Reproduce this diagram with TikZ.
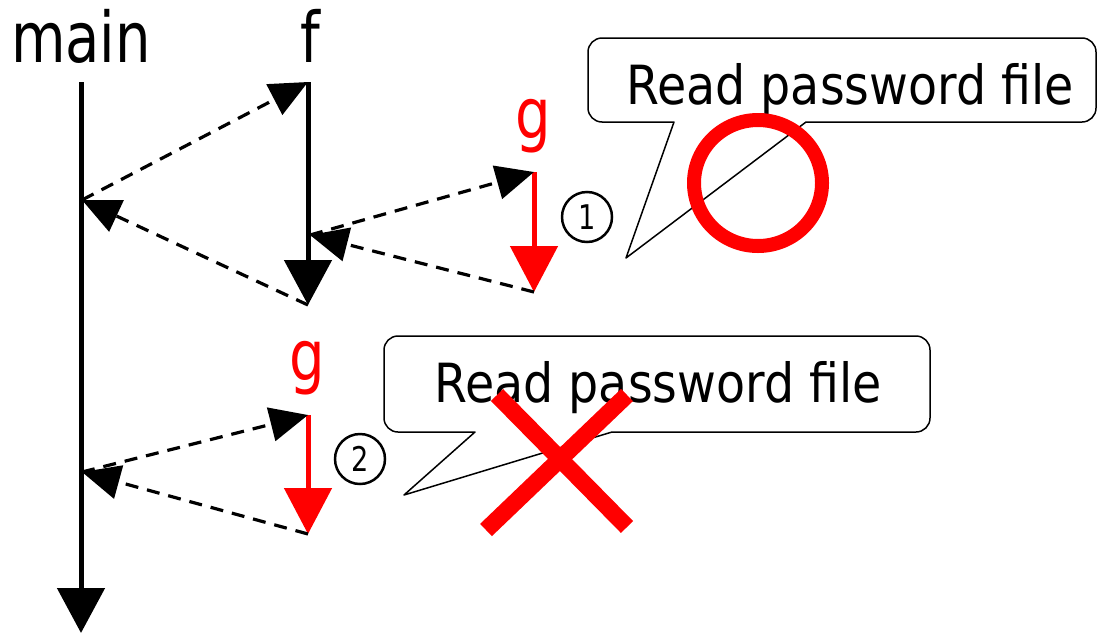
\documentclass[tikz,border=0pt]{standalone}
\usepackage{fontspec}
\setmainfont{DejaVu Sans}[FakeStretch=0.88]
\newfontfamily\lblfont{DejaVu Sans}[FakeStretch=0.8]
\usetikzlibrary{arrows.meta}
\begin{document}
\begin{tikzpicture}[x=1pt,y=-1pt,
  life/.style={line width=5pt, -{Triangle[length=45pt,width=47pt]}},
  callarr/.style={line width=5pt, red, -{Triangle[length=46pt,width=47pt]}},
  msg/.style={line width=3.2pt, dash pattern=on 13pt off 9pt, -{Triangle[length=38pt,width=34pt]}},
  lbl/.style={inner sep=0pt, anchor=base, font=\lblfont\fontsize{70}{74}\selectfont},
  bubble/.style={line width=1.5pt, fill=white, line join=round},
  btext/.style={inner sep=0pt, anchor=base, font=\fontsize{54}{60}\selectfont},
  num/.style={circle, draw, line width=2.5pt, minimum size=50pt, inner sep=0pt, font=\lblfont\fontsize{34}{36}\selectfont},
  okmark/.style={red, line width=14pt},
  crossmark/.style={red, line width=17pt}
]
\path[use as bounding box] (0,0) rectangle (1099,635);

% labels
\node[lbl] (mainlbl) at (81,62) {main};
\node[lbl] (flbl) at (310,62) {f};
\node[lbl, text=red] (g1lbl) at (533,138) {g};
\node[lbl, text=red] (g2lbl) at (307,380) {g};

% lifeline points
\coordinate (mainTop) at (81,82);
\coordinate (mainEnd) at (81,633);
\coordinate (fTop) at (308,82);
\coordinate (fEnd) at (308,305);
\coordinate (g1Top) at (534,172);
\coordinate (g1End) at (534,292);
\coordinate (g2Top) at (308,415);
\coordinate (g2End) at (308,534);
\coordinate (mA) at (82,200);
\coordinate (mB) at (82,472);
\coordinate (fC) at (310,235);

% lifelines
\draw[life] (mainTop) -- (mainEnd);
\draw[life] (fTop) -- (fEnd);
\draw[callarr] (g1Top) -- (g1End);
\draw[callarr] (g2Top) -- (g2End);

% messages
\draw[msg] (mA) -- (fTop);
\draw[msg] (fEnd) -- (mA);
\draw[msg] (fC) -- (g1Top);
\draw[msg] (g1End) -- (fC);
\draw[msg] (mB) -- (g2Top);
\draw[msg] (g2End) -- (mB);

% callout 1
\draw[bubble] (806,122) [rounded corners=14pt] -- (1096,122) -- (1096,38) -- (588,38) -- (588,122) [sharp corners] -- (674,122) -- (626,258) -- cycle;
\node[btext] (t1) at (850,104) {Read password file};

% callout 2
\draw[bubble] (612,432) [rounded corners=14pt] -- (930,432) -- (930,336) -- (384,336) -- (384,432) [sharp corners] -- (475,432) -- (404,495) -- cycle;
\node[btext] (t2) at (658,402) {Read password file};

% marks
\draw[okmark] (758,183) ellipse [x radius=64, y radius=63];
\draw[crossmark] (497,395) -- (627,527);
\draw[crossmark] (627,395) -- (486,530);

% step numbers
\node[num] (n1) at (587,217) {1};
\node[num] (n2) at (360,459) {2};
\end{tikzpicture}
\end{document}
